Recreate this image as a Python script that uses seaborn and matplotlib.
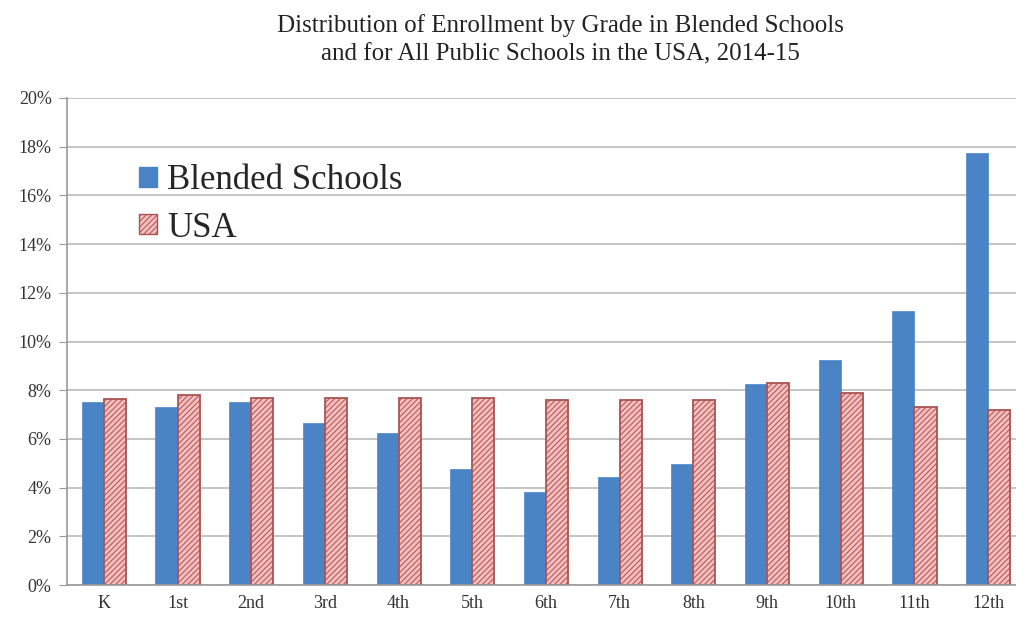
import matplotlib
matplotlib.use("Agg")
import matplotlib.pyplot as plt
import seaborn as sns
import pandas as pd
from matplotlib.patches import Patch
from matplotlib.ticker import FuncFormatter

grades = ["K", "1st", "2nd", "3rd", "4th", "5th", "6th", "7th", "8th", "9th", "10th", "11th", "12th"]
blended = [7.5, 7.3, 7.5, 6.65, 6.25, 4.75, 3.8, 4.45, 4.95, 8.25, 9.25, 11.25, 17.75]
usa = [7.65, 7.8, 7.7, 7.7, 7.7, 7.7, 7.6, 7.6, 7.6, 8.3, 7.9, 7.3, 7.2]
series_names = ["Blended Schools", "USA"]
title = "Distribution of Enrollment by Grade in Blended Schools\nand for All Public Schools in the USA, 2014-15"

df = pd.DataFrame({
    "Grade": grades * 2,
    "Share": blended + usa,
    "Series": [series_names[0]] * len(grades) + [series_names[1]] * len(grades),
})

sns.set_style("white")
plt.rcParams["font.family"] = ["Liberation Serif", "DejaVu Serif"]
plt.rcParams["hatch.linewidth"] = 0.7

blue = "#4a84c6"
pink = "#f5bcbc"
edge = "#a85454"

fig = plt.figure(figsize=(10.16, 6.18), dpi=100)
ax = fig.add_axes([67 / 1016, (618 - 585) / 618, 958 / 1016, 487 / 618])

sns.barplot(data=df, x="Grade", y="Share", hue="Series", order=grades,
            hue_order=series_names, palette=[blue, pink], width=0.6,
            saturation=1, ax=ax, legend=False)

for p in ax.containers[0]:
    p.set_edgecolor(blue)
    p.set_linewidth(0.5)
for p in ax.containers[1]:
    p.set_facecolor(pink)
    p.set_edgecolor(edge)
    p.set_hatch("//////")
    p.set_linewidth(1.3)

ax.set_ylim(0, 20)
ax.set_xlim(-0.5, 12.5)
ax.set_yticks(range(0, 21, 2))
ax.yaxis.set_major_formatter(FuncFormatter(lambda v, _: f"{int(v)}%"))
ax.grid(axis="y", color="#c4c4c4", linewidth=1.4)
ax.set_axisbelow(True)
ax.set_xlabel("")
ax.set_ylabel("")
for s in ["top", "right"]:
    ax.spines[s].set_visible(False)
for s in ["left", "bottom"]:
    ax.spines[s].set_color("#9a9a9a")
    ax.spines[s].set_linewidth(1.2)
ax.tick_params(axis="y", length=6, color="#9a9a9a", labelsize=13, labelcolor="#333333", pad=5, left=True)
ax.tick_params(axis="x", length=0, labelsize=13, labelcolor="#333333", pad=7)

handles = [Patch(facecolor=blue, edgecolor=blue),
           Patch(facecolor=pink, edgecolor=edge, hatch="//////")]
ax.legend(handles, series_names, loc="upper left", bbox_to_anchor=(0.061, 0.893),
          frameon=False, fontsize=25, handlelength=0.5, handleheight=0.5,
          handletextpad=0.3, labelspacing=0.42, borderaxespad=0)

fig.text(0.552, 0.978, title, ha="center", va="top", fontsize=18, color="#222222", linespacing=1.4)

fig.savefig("out.png", dpi=100)
